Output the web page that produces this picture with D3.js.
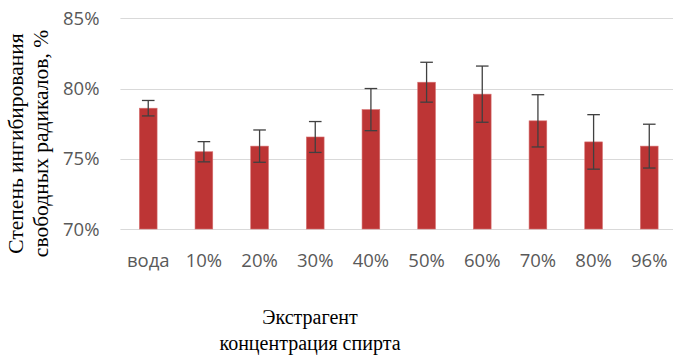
<!DOCTYPE html>
<html>
<head>
<meta charset="utf-8">
<script src="https://cdn.jsdelivr.net/npm/d3@7"></script>
<style>
  html, body { margin: 0; padding: 0; background: #fff; }
  svg { display: block; }
</style>
</head>
<body>
<svg id="chart" width="673" height="359"></svg>
<script>
// Extractant: water and ethanol concentrations
const categories = ["вода", "10%", "20%", "30%", "40%", "50%", "60%", "70%", "80%", "96%"];
// Degree of free-radical inhibition, %
const values = [78.6, 75.5, 75.9, 76.55, 78.5, 80.45, 79.6, 77.7, 76.2, 75.9];
// Half-width of the error bars, percentage points
const errors = [0.55, 0.72, 1.15, 1.1, 1.5, 1.42, 2.0, 1.86, 1.94, 1.56];
const yTicks = [70, 75, 80, 85];
const yTitleLines = ["Степень ингибирования", "свободных радикалов, %"];
const xTitleLines = ["Экстрагент", "концентрация спирта"];

const svg = d3.select("#chart");
const W = 673, H = 359;
const plot = { left: 120.4, right: 677.1, top: 18.3, bottom: 229 };

const x = d3.scaleBand()
  .domain(categories)
  .range([plot.left, plot.right])
  .paddingInner(0.682)
  .paddingOuter(0.341);

const y = d3.scaleLinear()
  .domain([70, 85])
  .range([plot.bottom, plot.top]);

const tickFont = "'Open Sans', sans-serif";
const titleFont = "'Liberation Serif', 'Times New Roman', serif";

// Horizontal gridlines
svg.append("g")
  .selectAll("line")
  .data(yTicks)
  .join("line")
  .attr("x1", plot.left)
  .attr("x2", W)
  .attr("y1", d => Math.round(y(d)) + 0.5)
  .attr("y2", d => Math.round(y(d)) + 0.5)
  .attr("stroke", "#d9d9d9")
  .attr("stroke-width", 1.2);

// Y tick labels
svg.append("g")
  .selectAll("text")
  .data(yTicks)
  .join("text")
  .attr("x", 99.5)
  .attr("y", d => y(d))
  .attr("dy", "0.36em")
  .attr("text-anchor", "end")
  .attr("font-family", tickFont)
  .attr("font-size", 18.5)
  .attr("fill", "#595959")
  .text(d => d + "%");

// Bars
svg.append("g")
  .selectAll("rect")
  .data(categories)
  .join("rect")
  .attr("x", d => x(d))
  .attr("width", x.bandwidth())
  .attr("y", (d, i) => y(values[i]))
  .attr("height", (d, i) => y(70) - y(values[i]))
  .attr("fill", "#bd3535")
  .attr("stroke", "#d66f6f")
  .attr("stroke-width", 0.6);

// Error bars
const capHalf = 6.3;
const eb = svg.append("g")
  .attr("stroke", "#404040")
  .attr("stroke-width", 1.3)
  .selectAll("g")
  .data(categories)
  .join("g");
eb.append("line")
  .attr("x1", d => x(d) + x.bandwidth() / 2)
  .attr("x2", d => x(d) + x.bandwidth() / 2)
  .attr("y1", (d, i) => y(values[i] + errors[i]))
  .attr("y2", (d, i) => y(values[i] - errors[i]));
eb.append("line")
  .attr("x1", d => x(d) + x.bandwidth() / 2 - capHalf)
  .attr("x2", d => x(d) + x.bandwidth() / 2 + capHalf)
  .attr("y1", (d, i) => y(values[i] + errors[i]))
  .attr("y2", (d, i) => y(values[i] + errors[i]));
eb.append("line")
  .attr("x1", d => x(d) + x.bandwidth() / 2 - capHalf)
  .attr("x2", d => x(d) + x.bandwidth() / 2 + capHalf)
  .attr("y1", (d, i) => y(values[i] - errors[i]))
  .attr("y2", (d, i) => y(values[i] - errors[i]));

// X tick labels
svg.append("g")
  .selectAll("text")
  .data(categories)
  .join("text")
  .attr("x", d => x(d) + x.bandwidth() / 2)
  .attr("y", 267)
  .attr("text-anchor", "middle")
  .attr("font-family", tickFont)
  .attr("font-size", 18.5)
  .attr("fill", "#595959")
  .text(d => d);

// Y axis title (two rotated lines)
const yTitle = svg.append("g")
  .attr("transform", "translate(0,143.5) rotate(-90)");
yTitleLines.forEach((line, i) => {
  yTitle.append("text")
    .attr("x", 0)
    .attr("y", 23 + i * 25)
    .attr("text-anchor", "middle")
    .attr("font-family", titleFont)
    .attr("font-size", 21.5)
    .attr("fill", "#000")
    .text(line);
});

// X axis title
xTitleLines.forEach((line, i) => {
  svg.append("text")
    .attr("x", 310)
    .attr("y", 323.5 + i * 26)
    .attr("text-anchor", "middle")
    .attr("font-family", titleFont)
    .attr("font-size", 20)
    .attr("fill", "#000")
    .text(line);
});
</script>
</body>
</html>
